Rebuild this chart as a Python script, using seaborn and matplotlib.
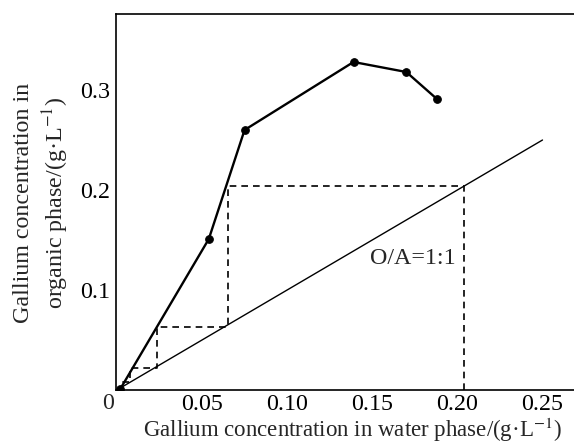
import matplotlib
matplotlib.use("Agg")
import matplotlib.pyplot as plt
import seaborn as sns
import pandas as pd
import numpy as np

# Equilibrium (extraction isotherm) data
water_conc = [0.002, 0.054, 0.075, 0.139, 0.170, 0.188]
organic_conc = [0.001, 0.151, 0.260, 0.328, 0.318, 0.291]

# Operating line O/A = 1:1
op_x = [0.0, 0.25]
op_y = [0.0, 0.25]

# McCabe-Thiele staircase (dashed) corner points
stair_x = [0.204, 0.204, 0.065, 0.065, 0.0235, 0.0235, 0.0078, 0.0078, 0.003]
stair_y = [0.0, 0.204, 0.204, 0.063, 0.063, 0.022, 0.022, 0.008, 0.008]

xticks = [0.05, 0.10, 0.15, 0.20, 0.25]
xticklabels = ["0.05", "0.10", "0.15", "0.20", "0.25"]
yticks = [0.1, 0.2, 0.3]
yticklabels = ["0.1", "0.2", "0.3"]

sns.set_style("white")
plt.rcParams['font.family'] = ['Liberation Serif', 'DejaVu Serif']
plt.rcParams['mathtext.fontset'] = 'stix'

FS = 17.3
fig = plt.figure(figsize=(5.74, 4.43), dpi=100)
ax = fig.add_axes([0.2021, 0.1196, 0.7979, 0.8488])

df = pd.DataFrame({"water": water_conc, "organic": organic_conc})
sns.lineplot(data=df, x="water", y="organic", ax=ax, color="black", lw=1.7,
             marker="o", markersize=5.5, markeredgecolor="black", sort=False)
sns.lineplot(x=op_x, y=op_y, ax=ax, color="black", lw=1.0)
ax.plot(stair_x, stair_y, color="black", lw=1.2, ls=(0, (4, 3)))

ax.text(0.199, 0.132, "O/A=1:1", ha="right", va="center", fontsize=FS)

ax.set_xlim(-0.0005, 0.2685)
ax.set_ylim(0, 0.376)
ax.set_xticks(xticks)
ax.set_xticklabels(xticklabels)
ax.set_yticks(yticks)
ax.set_yticklabels(yticklabels)
ax.set_xlabel("")
ax.set_ylabel("")
ax.tick_params(direction="in", length=7, width=1, labelsize=FS, colors="black")
ax.tick_params(axis="x", pad=3)
ax.tick_params(axis="y", pad=4)
ax.annotate("0", xy=(0, 0), xycoords="data", xytext=(-9, -13),
            textcoords="offset pixels", ha="center", va="center", fontsize=FS)

for s in ["left", "top", "bottom"]:
    ax.spines[s].set_color("black")
    ax.spines[s].set_linewidth(1.2)
ax.spines["right"].set_visible(False)

fig.text(352 / 574, 1 - 430 / 443, "Gallium concentration in water phase/(g·L$^{-1}$)",
         fontsize=16.5, ha="center", va="center")
fig.text(42 / 574, 1 - 203 / 443, "Gallium concentration in\norganic phase/(g·L$^{-1}$)",
         fontsize=FS, ha="center", va="center", rotation=90, linespacing=1.3,
         multialignment="center")

fig.savefig("out.png", dpi=100)
